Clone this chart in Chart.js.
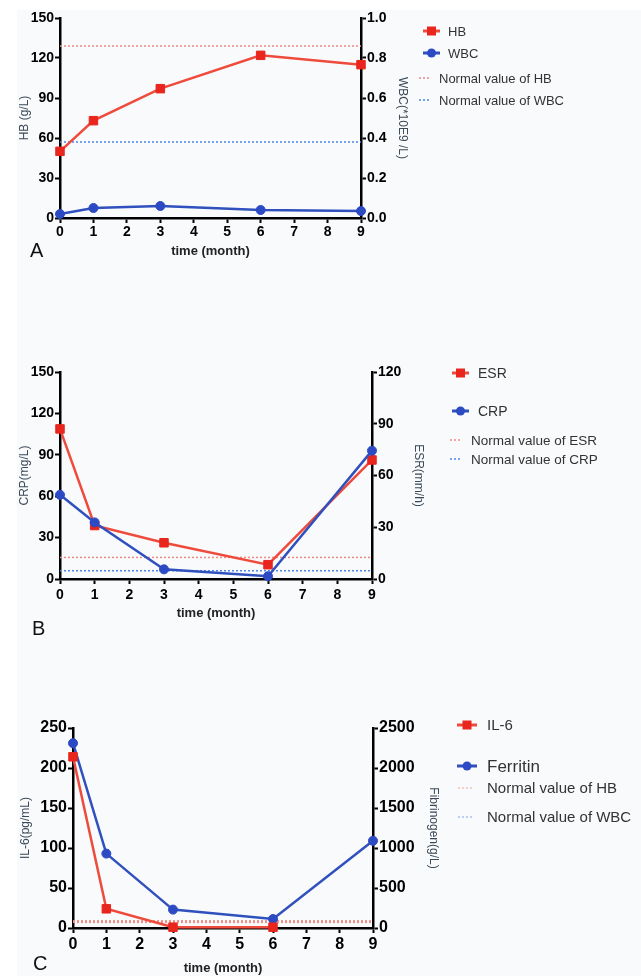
<!DOCTYPE html>
<html>
<head>
<meta charset="utf-8">
<script src="https://cdn.jsdelivr.net/npm/chart.js@4.4.1/dist/chart.umd.min.js"></script>
<style>
  body { margin: 0; background: #fff; width: 641px; height: 976px; position: relative; overflow: hidden; }
  #bg { position: absolute; left: 17px; top: 10px; right: 0; bottom: 0; background: #f9fafc; }
  canvas { position: absolute; left: 0; }
</style>
</head>
<body>
<div id="bg"></div>
<canvas id="chartA" width="641" height="280" style="top:0"></canvas>
<canvas id="chartB" width="641" height="360" style="top:280px"></canvas>
<canvas id="chartC" width="641" height="336" style="top:640px"></canvas>
<script>
// time points (month)
const months = [0, 1, 3, 6, 9];

// panel A
const hb = [50, 73, 97, 122, 115];
const wbc = [0.02, 0.05, 0.06, 0.04, 0.035];
const hbNormal = 129;
const wbcNormal = 0.38;

// panel B
const esr = [87, 31, 21, 8.3, 69];
const crp = [61, 41, 7, 2, 93];
const esrNormal = 12.5;
const crpNormal = 6;

// panel C
const il6 = [214, 24, 1, 1, null];
const ferritin = [2310, 930, 230, 112, 1090];
const il6Normal = 8;

const FONT = 'Arial, "Liberation Sans", sans-serif';
const RED = '#ee4b3c', RED_PT = '#e8261d';
const BLUE = '#2f50bd', BLUE_PT = '#2b4ac3';
const RED_DOT = '#ec8a84', BLUE_DOT = '#4f86e6';

const pts = values => months.map((m, i) => ({ x: m, y: values[i] }));
const flat = v => [{ x: 0, y: v }, { x: 9, y: v }];

function series(values, axisId, color, ptColor, style, order) {
    return {
        data: pts(values),
        yAxisID: axisId,
        borderColor: color,
        backgroundColor: ptColor,
        pointBackgroundColor: ptColor,
        pointBorderColor: ptColor,
        borderWidth: 2.5,
        pointStyle: style,
        pointRadius: style === 'rect' ? 6 : 4.5,
        pointBorderWidth: 1,
        clip: false,
        order
    };
}

function normal(v, axisId, color, width) {
    return {
        data: flat(v),
        yAxisID: axisId,
        borderColor: color,
        borderWidth: width,
        borderDash: [2, 2],
        pointRadius: 0,
        order: 9
    };
}

function yScale(position, min, max, step, title, fontSize, width, titlePad, fmt) {
    return {
        type: 'linear',
        position,
        min, max,
        afterFit: s => { s.width = width; },
        ticks: {
            stepSize: step,
            color: '#000',
            padding: 1,
            font: { family: FONT, size: fontSize, weight: 'bold' },
            callback: fmt || (v => v)
        },
        grid: { drawOnChartArea: false, tickLength: 5, tickWidth: 2, tickColor: '#000' },
        border: { color: '#000', width: 2.5 },
        title: {
            display: true,
            text: title,
            color: '#3b4a58',
            font: { family: FONT, size: 12 },
            padding: { top: titlePad, bottom: 0 }
        }
    };
}

function xScale(fontSize, height, tickPad) {
    return {
        type: 'linear',
        min: 0, max: 9,
        afterFit: s => { s.height = height; },
        ticks: {
            stepSize: 1,
            color: '#000',
            padding: tickPad,
            maxRotation: 0,
            autoSkip: false,
            font: { family: FONT, size: fontSize, weight: 'bold' }
        },
        grid: { drawOnChartArea: false, tickLength: 5, tickWidth: 2, tickColor: '#000' },
        border: { color: '#000', width: 2.5 },
        title: {
            display: true,
            text: 'time (month)',
            color: '#222',
            font: { family: FONT, size: 13, weight: 'bold' },
            padding: { top: 0, bottom: 0 }
        }
    };
}

// legend + panel letter drawn straight on the canvas
function legendPlugin(items, letter) {
    return {
        id: 'customLegend',
        afterDraw(chart) {
            const ctx = chart.ctx;
            ctx.save();
            ctx.textBaseline = 'middle';
            ctx.textAlign = 'left';
            items.forEach(it => {
                if (it.kind === 'series') {
                    ctx.strokeStyle = it.color;
                    ctx.lineWidth = 3;
                    ctx.beginPath();
                    ctx.moveTo(it.x0, it.y);
                    ctx.lineTo(it.x1, it.y);
                    ctx.stroke();
                    ctx.fillStyle = it.ptColor;
                    const cx = (it.x0 + it.x1) / 2;
                    ctx.beginPath();
                    if (it.style === 'rect') ctx.rect(cx - 4.5, it.y - 4.5, 9, 9);
                    else ctx.arc(cx, it.y, 4.5, 0, Math.PI * 2);
                    ctx.fill();
                } else {
                    ctx.strokeStyle = it.color;
                    ctx.lineWidth = 1.5;
                    ctx.setLineDash([2, 2]);
                    ctx.beginPath();
                    ctx.moveTo(it.x0, it.y);
                    ctx.lineTo(it.x1, it.y);
                    ctx.stroke();
                    ctx.setLineDash([]);
                }
                ctx.fillStyle = '#333';
                ctx.font = it.size + 'px ' + FONT;
                ctx.fillText(it.label, it.tx, it.y + 1);
            });
            ctx.fillStyle = '#111';
            ctx.font = '20px ' + FONT;
            ctx.textBaseline = 'alphabetic';
            ctx.fillText(letter.text, letter.x, letter.y);
            ctx.restore();
        }
    };
}

function baseOptions(padding, scales) {
    return {
        responsive: false,
        animation: false,
        layout: { autoPadding: false, padding },
        plugins: { legend: { display: false }, tooltip: { enabled: false } },
        scales
    };
}

// ---- A ----
new Chart(document.getElementById('chartA'), {
    type: 'line',
    data: {
        datasets: [
            series(hb, 'y', RED, RED_PT, 'rect', 1),
            series(wbc, 'y1', BLUE, BLUE_PT, 'circle', 0),
            normal(hbNormal, 'y', RED_DOT, 1.5),
            normal(wbcNormal, 'y1', BLUE_DOT, 1.5)
        ]
    },
    options: baseOptions({ left: 0, top: 18, right: 220, bottom: 21 }, {
        x: xScale(14, 41, 1),
        y: yScale('left', 0, 150, 30, 'HB (g/L)', 14, 60, 17),
        y1: yScale('right', 0, 1, 0.2, 'WBC(*10E9 /L)', 14, 60, 11, v => v.toFixed(1))
    }),
    plugins: [legendPlugin([
        { kind: 'series', y: 31, x0: 423, x1: 440, tx: 448, color: RED, ptColor: RED_PT, style: 'rect', label: 'HB', size: 13 },
        { kind: 'series', y: 53, x0: 423, x1: 440, tx: 448, color: BLUE, ptColor: BLUE_PT, style: 'circle', label: 'WBC', size: 13 },
        { kind: 'normal', y: 78, x0: 419, x1: 431, tx: 439, color: RED_DOT, label: 'Normal value of HB', size: 13 },
        { kind: 'normal', y: 100, x0: 419, x1: 431, tx: 439, color: BLUE_DOT, label: 'Normal value of WBC', size: 13 }
    ], { text: 'A', x: 30, y: 257 })]
});

// ---- B ----
new Chart(document.getElementById('chartB'), {
    type: 'line',
    data: {
        datasets: [
            series(crp, 'y', BLUE, BLUE_PT, 'circle', 0),
            series(esr, 'y1', RED, RED_PT, 'rect', 1),
            normal(esrNormal, 'y1', RED_DOT, 1.5),
            normal(crpNormal, 'y', BLUE_DOT, 1.5)
        ]
    },
    options: baseOptions({ left: 0, top: 92, right: 209, bottom: 19 }, {
        x: xScale(14, 42, 3),
        y: yScale('left', 0, 150, 30, 'CRP(mg/L)', 14, 60, 17),
        y1: yScale('right', 0, 120, 30, 'ESR(mm/h)', 14, 60, 6)
    }),
    plugins: [legendPlugin([
        { kind: 'series', y: 93, x0: 452, x1: 469, tx: 478, color: RED, ptColor: RED_PT, style: 'rect', label: 'ESR', size: 14 },
        { kind: 'series', y: 131, x0: 452, x1: 469, tx: 478, color: BLUE, ptColor: BLUE_PT, style: 'circle', label: 'CRP', size: 14 },
        { kind: 'normal', y: 160, x0: 450, x1: 462, tx: 471, color: RED_DOT, label: 'Normal value of ESR', size: 13.5 },
        { kind: 'normal', y: 179, x0: 450, x1: 462, tx: 471, color: BLUE_DOT, label: 'Normal value of CRP', size: 13.5 }
    ], { text: 'B', x: 32, y: 355 })]
});

// ---- C ----
new Chart(document.getElementById('chartC'), {
    type: 'line',
    data: {
        datasets: [
            series(il6, 'y', RED, RED_PT, 'rect', 0),
            series(ferritin, 'y1', BLUE, BLUE_PT, 'circle', 1),
            normal(il6Normal, 'y', '#ef8f86', 3)
        ]
    },
    options: baseOptions({ left: 0, top: 88, right: 193, bottom: 0 }, {
        x: xScale(16, 48, 2),
        y: yScale('left', 0, 250, 50, 'IL-6(pg/mL)', 16, 73, 18),
        y1: yScale('right', 0, 2500, 500, 'Fibrinogen(g/L)', 16, 75, 7)
    }),
    plugins: [legendPlugin([
        { kind: 'series', y: 85, x0: 457, x1: 477, tx: 487, color: RED, ptColor: RED_PT, style: 'rect', label: 'IL-6', size: 15 },
        { kind: 'series', y: 126, x0: 457, x1: 477, tx: 487, color: BLUE, ptColor: BLUE_PT, style: 'circle', label: 'Ferritin', size: 17 },
        { kind: 'normal', y: 148, x0: 458, x1: 472, tx: 487, color: '#f4c0bb', label: 'Normal value of HB', size: 15 },
        { kind: 'normal', y: 177, x0: 458, x1: 472, tx: 487, color: '#a9bff0', label: 'Normal value of WBC', size: 15 }
    ], { text: 'C', x: 33, y: 330 })]
});
</script>
</body>
</html>
